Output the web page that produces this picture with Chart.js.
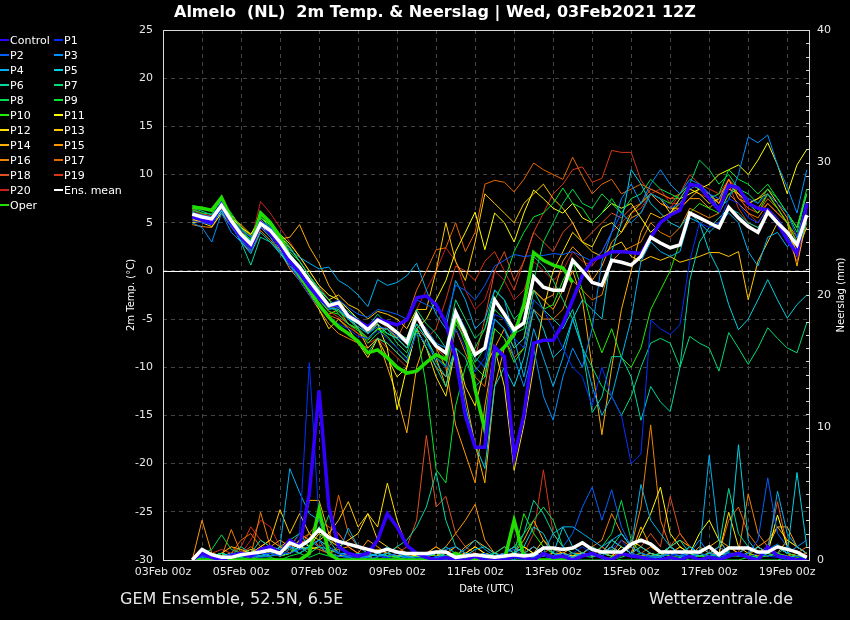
<!DOCTYPE html>
<html>
<head>
<meta charset="utf-8">
<script src="https://cdn.jsdelivr.net/npm/chart.js@4.4.1/dist/chart.umd.min.js"></script>
<style>
  body { margin: 0; background: #000; }
  #wrap { position: relative; width: 850px; height: 620px; background: #000; font-family: "DejaVu Sans", sans-serif; color: #fff; }
  canvas { position: absolute; left: 0; top: 0; }
  .title { position: absolute; left: 174px; top: 2px; font-size: 16px; font-weight: bold; white-space: pre; line-height: 20px; }
  .foot { position: absolute; top: 589px; font-size: 16px; line-height: 20px; color: #e6e6e6; }
  .leg { position: absolute; font-size: 11px; line-height: 14px; white-space: nowrap; }
  .leg i { display: inline-block; width: 9px; height: 2px; vertical-align: middle; margin-right: 1px; margin-top: -2px; }
</style>
</head>
<body>
<div id="wrap">
  <canvas id="chart" width="850" height="620"></canvas>
  <div class="title">Almelo  (NL)  2m Temp. &amp; Neerslag | Wed, 03Feb2021 12Z</div>
  <div class="foot" style="left:120px">GEM Ensemble, 52.5N, 6.5E</div>
  <div class="foot" style="right:57px">Wetterzentrale.de</div>
  <div id="legend"></div>
</div>
<script>
// forecast hours after 03Feb 00z (6-hourly)
const hours = [18, 24, 30, 36, 42, 48, 54, 60, 66, 72, 78, 84, 90, 96, 102, 108,
  114, 120, 126, 132, 138, 144, 150, 156, 162, 168, 174, 180, 186, 192, 198, 204,
  210, 216, 222, 228, 234, 240, 246, 252, 258, 264, 270, 276, 282, 288, 294, 300,
  306, 312, 318, 324, 330, 336, 342, 348, 354, 360, 366, 372, 378, 384, 390, 396]
const tickLabels = [`03Feb 00z`, `05Feb 00z`, `07Feb 00z`, `09Feb 00z`, `11Feb 00z`,
  `13Feb 00z`, `15Feb 00z`, `17Feb 00z`, `19Feb 00z`]
const names = [`Control`, `P1`, `P2`, `P3`, `P4`, `P5`, `P6`, `P7`, `P8`, `P9`, `P10`,
  `P11`, `P12`, `P13`, `P14`, `P15`, `P16`, `P17`, `P18`, `P19`, `P20`, `Ens. mean`, `Oper`]

// 2m temperature (°C)
const tControl = [5.6, 5.3, 5.0, 6.9, 5.0, 3.5, 2.5, 5.0, 4.0, 2.6, 1.0, -0.2, -1.6, -2.8, -3.6, -3.5,
  -4.6, -5.2, -5.8, -5.0, -5.3, -5.6, -5.1, -2.8, -2.6, -3.5, -5.4, -9.0, -15.0, -18.3, -18.3, -7.9,
  -8.9, -19.3, -15.0, -7.5, -7.2, -7.2, -5.5, -3.0, -0.5, 1.1, 1.5, 2.0, 2.0, 1.9, 1.8, 3.5,
  5.0, 5.8, 6.3, 9.0, 8.8, 7.5, 6.3, 8.9, 8.6, 7.0, 6.5, 6.3, 5.0, 3.2, 1.8, 7.0]
const tP1 = [5.2, 5.0, 4.8, 6.5, 4.5, 3.2, 2.0, 4.5, 3.8, 2.4, 0.5, -1.0, -2.5, -3.8, -4.8, -5.5,
  -6.0, -6.8, -7.0, -6.2, -7.0, -8.0, -9.2, -6.5, -7.5, -9.0, -10.0, -6.0, -8.0, -10.5, -9.0, -4.5,
  -5.0, -7.0, -8.0, -3.0, -4.0, -6.0, -8.0, -10.0, -11.0, -14.0, -10.0, -13.0, -15.0, -20.0, -19.0, -5.1,
  -6.0, -6.6, -5.6, 1.0, 5.0, 4.5, 5.0, 7.5, 7.0, 5.5, 5.0, 6.5, 5.5, 4.0, 3.0, 6.0]
const tP2 = [6.0, 5.8, 5.6, 7.2, 5.5, 4.2, 3.5, 5.2, 4.5, 3.2, 1.6, 0.2, -1.2, -2.6, -3.5, -3.0,
  -3.8, -4.5, -4.8, -4.0, -4.2, -4.5, -5.0, -3.0, -3.5, -4.0, -5.0, -1.5, -2.0, -3.0, -1.5, 0.5,
  1.1, 1.7, 1.5, 1.6, 1.6, 1.8, 1.7, 2.0, 1.5, 1.0, 2.0, 4.0, 6.0, 5.0, 6.0, 8.0,
  7.5, 6.5, 7.0, 8.5, 9.0, 8.0, 7.5, 9.0, 8.5, 7.5, 7.0, 8.0, 7.0, 6.0, 3.5, 7.0]
const tP3 = [5.0, 4.5, 3.0, 6.0, 4.0, 3.0, 2.2, 4.6, 3.5, 2.0, 0.8, -0.8, -2.0, -3.0, -4.0, -3.8,
  -5.0, -5.5, -6.5, -5.8, -6.0, -6.8, -7.5, -5.0, -6.0, -7.5, -8.0, -4.0, -6.0, -9.0, -10.0, -5.0,
  -6.0, -9.0, -12.0, -8.0, -13.0, -15.5, -11.0, -8.0, -10.0, -6.0, 1.0, 4.0, 7.5, 9.0, 7.0, 9.0,
  10.5, 9.0, 8.0, 9.5, 9.0, 8.0, 6.5, 7.4, 10.0, 13.9, 13.3, 14.1, 11.0, 8.7, 6.0, 10.5]
const tP4 = [6.2, 5.5, 5.2, 6.3, 4.6, 3.9, 3.2, 5.2, 4.5, 3.5, 2.2, 1.4, 0.8, 0.2, 0.4, -1.0,
  -1.6, -2.5, -3.7, -0.9, -1.5, -1.2, -0.5, 0.8, -2.0, -4.5, -6.0, -1.0, -3.0, -6.0, -5.0, -2.0,
  -3.0, -7.0, -11.0, -6.0, -9.0, -12.0, -9.0, -5.0, -8.0, -12.0, -15.0, -13.0, -9.0, -5.0, 1.0, 3.0,
  2.0, 1.5, 2.0, 5.5, 5.0, 4.0, 5.0, 6.0, 5.0, 2.0, 0.5, 3.5, 4.0, 2.5, 3.5, 5.5]
const tP5 = [5.5, 5.2, 4.8, 6.2, 4.8, 3.0, 1.8, 4.0, 3.0, 1.8, 0.5, -0.5, -1.5, -2.6, -3.8, -4.0,
  -5.0, -5.8, -6.5, -5.5, -6.5, -7.0, -8.0, -5.5, -7.0, -9.5, -11.0, -8.0, -14.0, -18.0, -20.5, -12.0,
  -10.0, -12.0, -9.0, -4.0, -6.0, -9.0, -8.0, -5.0, -3.0, -4.0, -5.0, 2.0, 5.0, 10.5, 9.0, 7.0,
  6.0, 5.0, 4.5, 6.0, 5.0, 2.0, 0.0, -3.5, -6.1, -5.0, -3.0, -0.9, -3.0, -4.9, -3.5, -2.5]
const tP6 = [6.5, 6.2, 5.8, 7.0, 5.0, 3.0, 0.6, 3.5, 3.0, 2.0, 0.5, -0.8, -2.0, -3.5, -5.0, -6.0,
  -6.5, -7.5, -8.5, -7.0, -7.5, -8.5, -9.5, -6.0, -8.0, -10.0, -12.0, -8.0, -9.0, -12.0, -11.0, -5.0,
  -6.0, -8.0, -7.0, -2.0, -4.0, -5.0, -6.0, -4.0, -8.0, -14.7, -13.1, -8.9, -8.9, -11.0, -15.5, -12.0,
  -13.6, -14.6, -10.0, -1.0, 3.0, 4.5, 5.5, 6.5, 6.0, 5.0, 4.5, 6.0, 5.0, 3.5, 2.0, 5.0]
const tP7 = [6.0, 5.8, 5.5, 6.8, 5.4, 4.4, 3.5, 5.5, 4.6, 3.4, 2.0, 1.0, -0.5, -1.8, -3.0, -3.8,
  -4.2, -5.0, -5.8, -4.5, -5.5, -6.5, -7.0, -4.0, -5.5, -6.5, -8.0, -3.0, -5.0, -7.0, -6.0, -2.0,
  -3.0, -5.0, -4.0, 1.5, 0.5, -1.0, -3.0, -5.0, -8.0, -10.0, -12.0, -13.0, -15.0, -13.0, -10.0, -7.5,
  -7.0, -7.5, -10.0, -6.8, -7.5, -8.0, -10.4, -6.4, -8.0, -9.7, -8.0, -5.9, -7.0, -8.0, -8.5, -5.4]
const tP8 = [6.8, 6.6, 6.2, 7.2, 6.0, 4.5, 3.0, 6.2, 5.2, 3.8, 2.5, 1.0, -0.5, -2.0, -3.0, -4.5,
  -5.5, -6.0, -7.5, -6.5, -6.0, -7.5, -8.5, -5.5, -7.0, -9.0, -10.0, -5.5, -7.0, -9.5, -8.0, -4.0,
  -5.0, -6.5, -6.0, -1.0, 3.0, 5.0, 7.0, 8.5, 7.0, 6.5, 8.0, 7.0, 6.0, 7.5, 8.0, 9.5,
  8.5, 8.0, 7.5, 9.0, 11.5, 10.5, 9.0, 10.0, 8.5, 8.0, 7.0, 8.5, 7.5, 6.0, 4.0, 8.0]
const tP9 = [6.3, 6.0, 5.9, 7.4, 5.6, 4.0, 3.0, 5.8, 4.8, 3.5, 1.8, 0.5, -1.0, -2.5, -3.8, -4.2,
  -5.0, -6.0, -7.0, -6.0, -6.5, -7.0, -8.0, -6.0, -12.0, -20.6, -22.0, -14.0, -10.0, -8.0, -6.0, -3.0,
  -1.0, 2.0, 4.0, 5.6, 6.0, 7.0, 8.6, 7.0, 6.5, 5.0, 6.0, 7.5, 6.0, 5.0, 6.0, 8.0,
  7.5, 7.0, 8.0, 9.0, 8.5, 7.5, 8.0, 10.5, 9.5, 9.0, 8.0, 9.0, 7.5, 6.0, 4.5, 8.5]
const tP10 = [6.0, 5.7, 5.3, 6.6, 5.5, 4.0, 3.3, 5.6, 4.4, 3.0, 1.2, 0.0, -1.5, -3.0, -4.2, -4.5,
  -5.5, -6.2, -7.2, -6.0, -6.8, -8.0, -9.0, -6.5, -7.5, -9.0, -9.8, -5.0, -7.5, -10.0, -11.0, -6.0,
  -7.0, -9.5, -8.0, -3.0, -4.0, -3.5, -1.0, 1.0, -2.0, -5.8, -8.5, -6.0, -9.0, -10.0, -8.0, -4.0,
  -2.0, 0.0, 3.0, 6.0, 7.0, 6.5, 6.0, 8.0, 8.5, 7.0, 6.0, 8.0, 6.5, 5.0, 3.0, 6.5]
const tP11 = [5.0, 5.3, 5.0, 6.2, 5.6, 4.5, 3.8, 5.5, 4.8, 3.8, 2.8, 1.5, 0.0, -1.5, -2.5, -3.0,
  -4.0, -5.0, -6.5, -5.5, -8.0, -14.4, -10.0, -6.0, -5.0, -3.0, -1.0, 2.0, 4.0, 6.1, 2.2, 6.0,
  5.0, 3.0, 6.0, 8.4, 7.5, 6.5, 6.0, 7.0, 5.5, 5.0, 6.0, 7.0, 6.5, 7.0, 5.5, 4.0,
  5.0, 6.0, 7.5, 8.0, 8.5, 9.0, 10.0, 10.5, 11.0, 10.0, 11.5, 13.3, 11.0, 8.0, 11.0, 12.6]
const tP12 = [5.4, 5.0, 4.6, 6.0, 5.0, 3.6, 2.6, 4.5, 4.0, 2.2, 0.8, -0.5, -2.2, -4.0, -6.0, -5.0,
  -6.0, -7.5, -9.0, -7.0, -9.0, -11.0, -10.0, -6.0, -8.0, -11.0, -13.0, -8.0, -12.0, -14.0, -10.0, -8.0,
  -12.0, -20.7, -16.0, -10.0, -4.0, 0.0, 2.0, 4.0, 3.0, 2.5, 4.5, 5.0, 4.0, 6.0, 7.0, 8.0,
  7.5, 6.0, 7.0, 8.5, 8.0, 7.0, 7.5, 9.0, 8.0, 7.0, 7.5, 8.5, 7.0, 6.0, 4.5, 8.0]
const tP13 = [5.2, 5.4, 5.5, 6.8, 5.8, 4.6, 3.6, 4.8, 4.2, 3.6, 2.4, 1.0, -0.5, -2.0, -3.0, -2.5,
  -3.5, -4.0, -5.0, -4.2, -4.5, -5.0, -6.0, -4.0, -4.0, 0.0, 5.0, 1.0, -1.0, 3.0, 8.0, 7.0,
  6.0, 5.0, 7.0, 8.0, 9.0, 7.5, 6.5, 5.0, 3.0, 2.0, 1.5, 2.5, 3.0, 1.5, 1.0, 1.5,
  1.1, 1.5, 0.9, 1.2, 1.5, 1.9, 1.9, 1.5, 2.0, -3.0, 1.0, 3.0, 5.0, 4.0, 2.0, 4.5]
const tP14 = [5.0, 5.2, 5.3, 6.5, 5.5, 4.8, 3.8, 5.0, 4.0, 3.3, 3.5, 4.8, 2.5, 0.8, -1.5, -3.0,
  -4.5, -6.0, -8.0, -7.0, -10.0, -13.0, -16.8, -10.0, -7.0, -9.0, -12.0, -8.0, -13.0, -18.0, -22.0, -12.0,
  -8.0, -6.0, -4.0, -2.0, -3.0, -4.0, -2.0, 0.0, -3.0, -10.0, -17.0, -10.0, -4.0, 0.0, 4.0, 6.0,
  5.5, 6.0, 6.5, 7.5, 8.5, 8.0, 7.0, 8.5, 8.0, 7.0, 7.5, 8.0, 6.5, 5.0, 0.5, 5.5]
const tP15 = [5.6, 5.5, 5.2, 6.6, 5.0, 3.5, 2.6, 5.3, 4.3, 2.8, 1.0, -0.5, -2.0, -3.5, -4.5, -4.0,
  -5.5, -6.0, -7.0, -6.0, -6.0, -7.0, -8.0, -5.0, -6.5, -8.0, -10.0, -16.0, -19.0, -22.0, -14.0, -8.0,
  -6.0, -8.0, -7.0, -2.0, -3.0, -2.5, 1.0, 2.5, 1.5, -1.0, 0.5, 3.0, 4.0, 5.5, 6.0, 8.0,
  7.0, 6.5, 6.5, 7.5, 7.5, 6.5, 7.5, 9.5, 7.5, 7.0, 6.5, 8.0, 7.0, 5.5, 1.5, 6.5]
const tP16 = [4.8, 4.6, 4.5, 6.0, 4.6, 3.2, 2.0, 4.2, 3.2, 2.0, 0.2, -1.0, -2.5, -4.0, -5.5, -6.5,
  -7.0, -7.5, -8.0, -7.0, -7.5, -8.5, -9.5, -6.0, -8.0, -10.0, -11.0, -6.0, -8.5, -11.0, -12.0, -6.0,
  -7.0, -9.0, -8.0, -4.0, -5.0, -5.0, -4.0, -1.0, -2.0, -3.0, -2.5, 1.0, 2.0, 2.5, 3.0, 5.0,
  4.0, 3.5, 4.5, 6.5, 6.0, 5.5, 6.0, 8.0, 7.0, 6.0, 5.5, 7.0, 6.0, 5.0, 3.5, 7.0]
const tP17 = [5.8, 5.4, 5.0, 6.4, 4.8, 3.0, 2.0, 4.5, 3.5, 2.0, 0.5, -1.0, -2.5, -3.6, -4.6, -5.0,
  -5.8, -6.5, -7.0, -6.0, -6.0, -7.0, -5.0, -2.0, 0.0, 2.2, 2.4, 5.0, 2.0, 4.0, 9.0, 9.4,
  9.2, 8.2, 9.5, 11.2, 10.5, 10.0, 9.5, 11.8, 9.8, 8.0, 9.0, 9.5, 8.0, 8.5, 9.0, 8.5,
  8.0, 7.5, 8.0, 9.0, 8.5, 8.0, 7.0, 9.5, 8.5, 7.0, 6.0, 7.5, 6.5, 5.0, 3.0, 6.5]
const tP18 = [6.4, 6.0, 5.6, 7.0, 5.3, 3.2, 2.4, 5.2, 4.0, 2.5, 1.0, -0.5, -2.0, -3.0, -4.0, -3.5,
  -4.5, -5.0, -6.0, -5.5, -6.5, -7.0, -8.0, -5.0, -6.0, -8.0, -9.0, -5.0, -7.0, -9.0, -5.0, 0.0,
  2.0, -1.0, 1.0, 4.0, 3.0, 2.0, 4.0, 5.0, 3.0, 4.0, 5.0, 6.0, 5.5, 6.5, 7.0, 8.5,
  8.0, 7.5, 7.5, 9.0, 8.5, 8.0, 7.0, 9.5, 7.5, 6.5, 6.0, 7.0, 6.0, 5.0, 3.0, 6.0]
const tP19 = [5.7, 5.5, 5.4, 6.6, 5.2, 4.0, 3.0, 5.0, 4.2, 3.0, 1.5, 0.0, -1.5, -3.0, -4.2, -4.8,
  -5.5, -6.5, -7.5, -7.0, -8.0, -9.0, -10.0, -6.0, -7.0, -6.0, -3.0, 0.5, 0.0, -1.0, 1.0, 2.0,
  0.0, -2.0, 1.0, 4.0, 6.0, 8.0, 9.0, 10.5, 10.8, 9.2, 9.6, 12.5, 12.3, 12.3, 9.4, 8.0,
  7.0, 6.5, 8.0, 10.0, 9.0, 8.5, 8.0, 9.0, 6.5, 5.0, 4.5, 6.0, 5.0, 3.5, 1.0, 5.0]
const tP20 = [6.2, 5.9, 5.7, 7.0, 5.6, 4.2, 3.0, 7.2, 6.0, 4.5, 3.0, 1.5, 0.0, -1.5, -3.0, -3.8,
  -4.5, -5.5, -6.5, -5.0, -6.0, -6.5, -7.0, -4.0, -2.0, 0.0, 2.4, 1.0, -2.0, -4.0, -3.0, 0.0,
  -1.0, -3.0, -2.0, 1.0, 0.0, -1.0, 0.0, 2.0, 1.0, 0.5, 2.0, 4.0, 5.0, 6.0, 6.5, 8.0,
  8.5, 7.0, 7.0, 8.5, 8.0, 7.5, 8.0, 9.5, 8.0, 6.0, 5.0, 6.5, 5.5, 4.0, 2.0, 5.5]
const tMean = [5.9, 5.6, 5.4, 6.8, 5.2, 3.8, 2.8, 4.9, 4.2, 3.0, 1.5, 0.4, -1.0, -2.3, -3.6, -3.3,
  -4.7, -5.3, -6.1, -5.1, -5.6, -6.4, -7.4, -4.6, -6.5, -7.8, -8.5, -4.3, -6.5, -8.7, -8.0, -3.0,
  -4.5, -6.1, -5.4, -0.6, -1.7, -2.0, -2.0, 1.1, 0.0, -1.2, -1.5, 1.1, 0.9, 0.6, 1.5, 3.5,
  2.9, 2.4, 2.7, 6.0, 5.5, 5.0, 4.5, 6.6, 5.5, 4.6, 4.0, 6.1, 5.0, 4.0, 2.7, 5.8]
const tOper = [6.6, 6.5, 6.3, 7.6, 5.5, 3.5, 2.5, 6.0, 5.0, 3.5, 1.5, -0.5, -2.0, -3.5, -4.8, -5.8,
  -6.5, -7.3, -8.5, -8.2, -9.0, -10.0, -10.6, -10.4, -9.5, -8.7, -9.2, -4.8, -6.3, -12.3, -16.5, -8.9,
  -7.9, -6.6, -3.5, 1.9, 1.1, 0.6, 0.3, -1.2]

// neerslag (mm / 6h)
const pControl = [0, 0.5, 0.2, 0, 0.3, 0.5, 0.3, 0.8, 1.0, 0.5, 1.5, 1.0, 5.0, 12.8, 4.0, 1.0,
  0.5, 0.3, 0.5, 1.5, 3.5, 2.5, 1.1, 0.5, 0.2, 0, 0.2, 0, 0, 0.3, 0, 0,
  0, 0.3, 0.2, 0, 0.5, 0.2, 0.3, 0, 0.3, 0.5, 0.2, 0, 0.5, 0.3, 0.2, 0,
  0, 0.2, 0, 0.3, 0, 0.2, 0, 0.3, 0.5, 0.2, 0, 1.0, 0.3, 0.2, 0, 0]
const pP1 = [0, 0.3, 0, 0.2, 0.5, 0.3, 0.2, 0.5, 0.5, 0.3, 0.8, 2.0, 14.9, 3.0, 1.0, 0.5,
  0.3, 0.2, 0, 0.3, 0.2, 0, 0, 0.2, 0, 0.3, 0, 0, 0.2, 0, 0.5, 0,
  0, 0.2, 0, 0, 0.3, 0, 0.2, 0.5, 1.0, 0.5, 0.3, 0.8, 1.5, 0.5, 0.3, 0.2,
  0, 0.3, 0.5, 0.2, 0, 0.3, 0.2, 0.5, 0.3, 0.2, 0.5, 0.3, 0.2, 0, 0.3, 0]
const pP2 = [0, 0.2, 0.3, 0, 0.2, 0.5, 0.3, 0.2, 0.3, 0.5, 0.5, 0.8, 1.5, 1.0, 0.5, 0.3,
  0.2, 0.3, 0.2, 0, 0.3, 0.5, 0.2, 0, 0, 0.2, 0.3, 0.5, 0.3, 0.2, 0, 0.3,
  0.5, 0.8, 0.3, 0.2, 0.5, 0.3, 1.0, 2.0, 4.0, 5.5, 3.0, 5.3, 2.5, 1.0, 0.5, 0.3,
  0.2, 0.5, 0.3, 0.2, 0.5, 0.3, 1.0, 0.5, 0.3, 0.5, 1.5, 6.2, 2.0, 1.0, 0.5, 0.3]
const pP3 = [0, 0.5, 0.3, 0.2, 0.3, 0.3, 0.5, 0.3, 0.5, 0.8, 1.0, 0.5, 1.0, 1.5, 0.5, 0.3,
  0.2, 0, 0.3, 0.5, 0.2, 0, 0.3, 0, 0.3, 0.5, 0.8, 1.0, 0.5, 0.3, 0.5, 0.2,
  0.3, 0, 0.5, 1.0, 0.5, 0.3, 0.5, 0.2, 0.5, 0.3, 0.5, 1.0, 0.5, 0.3, 0.2, 0,
  0.3, 0.5, 0.3, 0.5, 1.5, 0.5, 0.3, 0.2, 0.5, 1.0, 0.5, 0.8, 1.2, 0.5, 1.0, 1.5]
const pP4 = [0, 0.8, 0.3, 0.2, 0.5, 0.3, 0.2, 0.3, 0.5, 1.0, 6.9, 5.1, 3.5, 3.0, 1.0, 0.5,
  2.4, 1.0, 0.5, 0.3, 0.5, 0.3, 0.2, 0, 0, 0.2, 0.5, 0.3, 0.8, 1.5, 0.8, 0.3,
  0.5, 1.0, 0.5, 0.3, 0.5, 2.0, 2.5, 2.5, 2.0, 1.5, 1.0, 1.5, 2.0, 1.0, 5.7, 3.0,
  2.0, 1.0, 0.5, 1.0, 0.5, 7.9, 1.5, 0.5, 0.3, 0.5, 1.0, 0.5, 5.2, 2.0, 1.0, 0.5]
const pP5 = [0, 0.5, 0.5, 0.3, 0.2, 0.3, 0.3, 0.5, 0.3, 0.5, 1.0, 0.8, 1.0, 1.5, 1.0, 0.5,
  0.5, 0.3, 0.2, 0.5, 1.0, 0.5, 0.3, 0.2, 0.3, 0.5, 1.0, 0.5, 0.3, 0.8, 1.0, 0.5,
  0.3, 0.5, 1.0, 2.5, 2.0, 0.5, 2.5, 1.0, 0.5, 1.0, 0.5, 1.5, 1.0, 0.5, 1.0, 0.5,
  0.3, 1.0, 0.5, 0.3, 0.5, 1.0, 0.5, 0.5, 8.7, 1.5, 0.5, 0.5, 1.0, 0.5, 6.6, 1.0]
const pP6 = [0, 0.2, 0.3, 0.5, 0.3, 1.0, 0.5, 1.5, 1.0, 0.8, 1.5, 2.0, 1.0, 2.5, 1.5, 0.5,
  0.3, 0.5, 0.5, 0.3, 0.5, 1.0, 1.5, 2.5, 4.0, 6.6, 3.0, 1.0, 0.5, 0.3, 0.2, 0.5,
  1.0, 0.5, 2.0, 4.5, 3.5, 2.0, 1.0, 0.5, 0.3, 0.5, 0.3, 1.0, 2.0, 1.0, 0.5, 0.3,
  0.5, 1.0, 1.5, 0.5, 0.3, 0.5, 1.0, 5.4, 2.0, 1.0, 0.5, 0.3, 0.5, 1.0, 0.5, 0.3]
const pP7 = [0, 0.3, 0.2, 0.5, 0.3, 0.2, 0.3, 0.5, 0.5, 0.3, 0.5, 1.0, 0.5, 1.0, 0.8, 0.5,
  0.2, 0.3, 0, 0.2, 0.5, 0.3, 0.2, 0, 0, 0.2, 0.3, 0.2, 0, 0.3, 0.2, 0,
  0.2, 0.5, 0.3, 0.5, 1.0, 0.5, 0.3, 0.2, 0.3, 0.2, 0.5, 0.3, 0.2, 0.5, 0.3, 0.2,
  0.2, 0.5, 0.3, 0.2, 0.3, 0.5, 0.2, 0.3, 0.5, 0.3, 0.2, 0.5, 0.3, 0.2, 0.3, 0.2]
const pP8 = [0, 0.5, 0.8, 1.9, 0.8, 0.5, 0.3, 0.5, 0.3, 0.5, 1.0, 0.5, 1.0, 1.5, 3.4, 1.0,
  0.5, 0.3, 0.2, 0.5, 0.3, 0.2, 0, 0.2, 0.3, 0.5, 0.3, 0.2, 0, 0.3, 0.5, 0.2,
  0.5, 1.0, 2.0, 3.0, 4.0, 3.0, 1.0, 0.5, 0.3, 0.5, 1.0, 2.0, 4.5, 1.5, 0.5, 0.3,
  0.2, 0.5, 0.3, 1.0, 0.5, 0.3, 0.5, 0.3, 0.5, 0.3, 0.2, 0.5, 1.0, 0.5, 0.3, 0.2]
const pP9 = [0, 0, 0.2, 0.5, 0.3, 0.2, 0, 0.3, 0.2, 0, 0.3, 0.5, 0.2, 0.5, 0.3, 0,
  0, 0, 0.2, 0, 0, 0, 0, 0, 0, 0, 0, 0.2, 0, 0, 0, 0,
  0, 0, 0, 0.2, 0.5, 0.3, 0, 0, 0, 0, 0, 0.2, 0, 0, 0, 0,
  0, 0, 0.2, 0, 0, 0.3, 0, 0, 0, 0.2, 0, 0, 0, 0.2, 0, 0]
const pP10 = [0, 0.3, 0.5, 0.3, 0.2, 0.3, 0.5, 0.3, 0.5, 0.3, 0.8, 0.5, 1.0, 2.5, 1.0, 0.5,
  0.3, 0.2, 0.3, 0.5, 0.3, 0.2, 0, 0.3, 0.5, 0.3, 0.2, 0.5, 0.3, 0.2, 0.3, 0.5,
  0.3, 0.5, 3.5, 2.0, 1.0, 0.5, 0.3, 0.5, 0.3, 0.5, 0.3, 0.8, 0.5, 0.3, 0.5, 0.3,
  0.5, 0.3, 0.2, 0.5, 0.3, 0.2, 0.5, 0.3, 0.3, 0.5, 0.2, 0.3, 0.5, 0.3, 0.2, 0.3]
const pP11 = [0, 0.2, 0.3, 0.2, 0.5, 0.3, 0.2, 0.3, 0.5, 0.3, 0.5, 1.0, 0.8, 1.0, 0.5, 0.3,
  0.5, 0.3, 0.2, 0.5, 0.3, 0.2, 0.5, 0.3, 0.2, 0.5, 0.3, 0.2, 0.5, 1.0, 0.5, 0.3,
  0.2, 0.5, 1.0, 0.5, 0.3, 0.5, 0.3, 0.2, 0.5, 0.3, 0.5, 1.0, 0.5, 0.3, 2.0, 3.5,
  5.5, 2.0, 1.0, 0.5, 2.0, 3.0, 1.5, 0.5, 0.3, 0.5, 1.0, 0.5, 3.4, 1.0, 0.5, 0.3]
const pP12 = [0, 0.2, 0.3, 0.5, 0.3, 0.5, 0.8, 0.5, 0.5, 1.0, 0.8, 1.5, 1.0, 2.0, 1.5, 1.0,
  1.5, 2.0, 3.5, 2.5, 5.8, 3.0, 1.0, 0.5, 0.3, 0.5, 0.3, 0.2, 0.5, 0.3, 0.2, 0.3,
  0.5, 0.3, 0.5, 1.0, 0.5, 0.3, 0.5, 0.3, 0.5, 0.3, 0.5, 0.3, 1.0, 0.5, 0.3, 0.5,
  0.3, 1.0, 0.5, 0.3, 0.5, 1.0, 0.5, 3.6, 1.0, 0.5, 0.3, 0.5, 1.0, 0.5, 0.3, 0.2]
const pP13 = [0, 0.3, 0.5, 0.3, 0.5, 0.3, 0.5, 1.0, 1.5, 3.8, 2.0, 3.5, 2.0, 1.5, 2.0, 3.0,
  4.4, 2.5, 3.5, 1.5, 1.0, 0.5, 0.3, 0.2, 0.5, 0.3, 0.5, 1.0, 0.5, 0.3, 0.5, 0.2,
  0.3, 0.5, 1.0, 0.5, 1.5, 0.8, 0.5, 0.3, 0.5, 0.3, 0.5, 1.0, 0.5, 1.5, 1.0, 0.5,
  0.3, 0.5, 1.0, 0.5, 0.3, 0.5, 1.0, 0.5, 0.5, 1.0, 0.5, 0.3, 0.5, 1.5, 1.0, 0.5]
const pP14 = [0, 0.5, 0.3, 0.5, 1.0, 0.8, 0.5, 1.0, 1.5, 1.0, 1.5, 1.0, 4.5, 4.5, 2.0, 1.0,
  0.5, 0.3, 0.5, 0.8, 0.5, 0.3, 0.5, 0.3, 0.5, 1.0, 0.5, 0.3, 1.0, 1.5, 1.0, 0.5,
  1.0, 0.5, 1.5, 3.0, 1.5, 0.5, 0.5, 1.0, 0.5, 1.0, 0.5, 1.5, 1.0, 0.5, 2.5, 1.0,
  0.5, 1.0, 1.5, 1.0, 0.5, 1.0, 1.5, 1.0, 0.5, 1.0, 0.5, 1.0, 2.5, 1.5, 1.0, 0.5]
const pP15 = [0, 3.0, 0.5, 0.3, 0.5, 0.3, 0.5, 0.8, 1.0, 1.5, 1.0, 2.0, 1.5, 1.0, 0.5, 0.8,
  1.0, 0.5, 1.5, 1.0, 0.5, 0.3, 0.5, 0.3, 0.5, 0.3, 1.0, 2.0, 3.0, 4.2, 1.5, 0.5,
  0.3, 0.5, 0.3, 0.5, 1.0, 0.5, 0.3, 0.5, 0.5, 1.0, 0.5, 0.3, 0.5, 1.0, 0.5, 0.3,
  0.5, 1.0, 0.5, 0.3, 1.0, 0.5, 0.5, 1.0, 0.5, 0.3, 1.0, 1.5, 2.5, 2.5, 1.0, 0.5]
const pP16 = [0, 0.5, 0.3, 0.2, 2.3, 0.5, 0.3, 3.6, 1.0, 0.5, 1.0, 0.5, 1.0, 0.8, 0.5, 1.0,
  0.5, 0.3, 0.5, 0.3, 0.5, 1.0, 0.5, 0.3, 0.5, 0.3, 0.5, 0.3, 0.5, 0.3, 0.5, 0.3,
  0.5, 1.0, 0.5, 0.3, 0.5, 1.0, 0.5, 1.0, 0.5, 1.0, 1.5, 3.5, 2.0, 1.0, 4.0, 10.2,
  3.0, 1.0, 0.5, 0.3, 0.5, 1.0, 0.5, 0.3, 0.5, 5.0, 2.0, 1.0, 0.5, 0.3, 0.5, 1.0]
const pP17 = [0, 0.3, 0.5, 0.3, 0.5, 1.5, 2.0, 1.0, 0.5, 1.0, 0.5, 1.5, 2.0, 1.0, 1.5, 4.9,
  2.0, 1.0, 0.5, 0.3, 0.5, 0.3, 0.5, 0.3, 0.5, 1.0, 0.5, 0.3, 0.5, 1.0, 0.5, 0.3,
  0.5, 0.3, 0.5, 1.0, 0.5, 0.3, 0.5, 0.3, 0.5, 0.3, 1.0, 0.5, 1.5, 1.0, 0.5, 1.0,
  0.5, 1.0, 2.0, 1.0, 0.5, 1.0, 0.5, 3.0, 4.0, 2.0, 1.0, 0.5, 1.0, 0.5, 0.3, 0.5]
const pP18 = [0, 0.5, 0.3, 0.5, 0.3, 0.5, 1.0, 0.5, 0.5, 0.3, 0.5, 1.0, 2.0, 3.0, 2.5, 2.0,
  1.0, 0.5, 0.3, 0, 0.3, 0.5, 1.0, 3.0, 9.4, 4.0, 4.8, 2.0, 1.0, 0.5, 0.3, 0.5,
  0.3, 0.5, 0.3, 0.5, 1.0, 0.5, 0.3, 0.5, 0.5, 0.3, 0.5, 0.3, 1.0, 0.5, 1.0, 2.0,
  1.0, 4.8, 2.0, 1.0, 0.5, 1.0, 0.5, 1.0, 0.5, 1.0, 0.5, 1.0, 4.4, 1.0, 0.5, 0.3]
const pP19 = [0, 0.3, 0.5, 0.8, 0.5, 1.0, 2.5, 1.5, 1.0, 0.5, 1.0, 0.5, 1.0, 1.5, 1.0, 2.0,
  1.0, 0.5, 0.3, 0.5, 0.3, 0.5, 0.3, 0.5, 0.3, 0.5, 0.3, 1.0, 0.5, 0.3, 0.5, 0.3,
  0.5, 1.0, 0.5, 2.0, 6.8, 2.0, 1.0, 0.5, 0.5, 1.0, 0.5, 1.0, 0.5, 0.3, 0.5, 0.3,
  0.5, 0.3, 1.0, 0.5, 0.3, 0.5, 1.0, 0.5, 0.3, 0.5, 1.0, 0.5, 1.0, 0.5, 0.3, 0.5]
const pP20 = [0, 0.5, 0.3, 0.5, 1.0, 0.5, 1.5, 3.0, 2.5, 1.0, 0.5, 1.0, 0.5, 1.0, 0.5, 0.3,
  0.5, 0.3, 0.5, 0.3, 0.5, 0.3, 0.5, 0.3, 0.5, 0.3, 0.5, 0.3, 0.5, 1.0, 0.5, 0.3,
  0.3, 0.5, 0.3, 0.5, 0.3, 0.5, 0.3, 0.5, 0.3, 0.5, 1.0, 0.5, 0.3, 0.5, 0.3, 0.5,
  0.3, 0.5, 0.3, 1.0, 0.5, 0.3, 0.5, 0.3, 0.5, 0.3, 0.5, 0.3, 1.0, 0.5, 0.3, 0.5]
const pMean = [0, 0.8, 0.4, 0.2, 0.2, 0.4, 0.5, 0.6, 0.75, 0.5, 1.3, 1.0, 1.5, 2.3, 1.7, 1.4,
  1.2, 1.0, 0.8, 0.6, 0.8, 0.6, 0.5, 0.5, 0.5, 0.6, 0.6, 0.2, 0.3, 0.4, 0.3, 0.2,
  0.3, 0.4, 0.3, 0.4, 0.9, 0.9, 0.8, 0.9, 1.3, 0.8, 0.6, 0.6, 0.6, 1.2, 1.5, 1.2,
  0.6, 0.6, 0.6, 0.6, 0.6, 1.0, 0.4, 0.9, 0.9, 0.9, 0.6, 0.6, 1.0, 0.8, 0.6, 0.2]
const pOper = [0, 0, 0, 0, 0, 0, 0, 0, 0, 0, 0, 0, 0.5, 3.8, 0.5, 0,
  0, 0, 0, 0, 0, 0, 0, 0, 0, 0, 0.2, 0.5, 0.2, 0, 0, 0,
  0, 3.0, 0.3, 0, 0, 0, 0, 0]

const tempSets = [tControl, tP1, tP2, tP3, tP4, tP5, tP6, tP7, tP8, tP9, tP10,
  tP11, tP12, tP13, tP14, tP15, tP16, tP17, tP18, tP19, tP20, tMean, tOper]
const rainSets = [pControl, pP1, pP2, pP3, pP4, pP5, pP6, pP7, pP8, pP9, pP10,
  pP11, pP12, pP13, pP14, pP15, pP16, pP17, pP18, pP19, pP20, pMean, pOper]

// stijl per lijn
const colours = [`#3300ff`, `#0030ff`, `#0060ff`, `#0090ff`, `#00b0f0`, `#00d0e0`, `#00d8a0`,
  `#00dd78`, `#00dd50`, `#00e830`, `#20ee00`, `#ffff00`, `#ffe000`, `#ffc800`, `#ffb000`,
  `#ff9800`, `#f08000`, `#e86800`, `#e05020`, `#d83818`, `#c82020`, `#ffffff`, `#22dd00`]
const thick = [`Control`, `Ens. mean`, `Oper`]

const toPoints = (vals) => vals.map((v, i) => ({ x: hours[i], y: v }))

const datasets = []
names.forEach((name, i) => {
  const wide = thick.includes(name)
  const order = name === `Ens. mean` ? 0 : wide ? 1 : 2
  const base = {
    label: name,
    borderColor: colours[i],
    borderWidth: wide ? 3.5 : 1,
    pointRadius: 0,
    tension: 0,
    fill: false,
    order: order,
  }
  datasets.push({ ...base, data: toPoints(tempSets[i]), yAxisID: `yT` })
  datasets.push({ ...base, data: toPoints(rainSets[i]), yAxisID: `yP` })
})

const font = { family: `DejaVu Sans`, size: 11 }
const gridGrey = `#444444`

const decor = {
  id: `decor`,
  beforeDatasetsDraw(chart) {
    const { ctx, chartArea: a, scales } = chart
    ctx.save()
    // kader
    ctx.strokeStyle = `#d8d8d8`
    ctx.lineWidth = 1
    ctx.strokeRect(a.left + 0.5, a.top + 0.5, a.right - a.left - 1, a.bottom - a.top)
    // nullijn
    const y0 = Math.round(scales.yT.getPixelForValue(0)) + 0.5
    ctx.strokeStyle = `#ffffff`
    ctx.beginPath()
    ctx.moveTo(a.left, y0)
    ctx.lineTo(a.right, y0)
    ctx.stroke()
    // kleine streepjes rechter as
    ctx.strokeStyle = `#d8d8d8`
    for (let v = 0; v <= 40; v++) {
      const y = Math.round(scales.yP.getPixelForValue(v)) + 0.5
      ctx.beginPath()
      ctx.moveTo(a.right - 4, y)
      ctx.lineTo(a.right, y)
      ctx.stroke()
    }
    ctx.restore()
  },
  afterDraw(chart) {
    const { ctx, chartArea: a } = chart
    const midY = (a.top + a.bottom) / 2
    ctx.save()
    ctx.fillStyle = `#ffffff`
    ctx.font = `10px "DejaVu Sans"`
    ctx.textAlign = `center`
    ctx.textBaseline = `middle`
    ctx.fillText(`Date (UTC)`, (a.left + a.right) / 2, 589)
    ctx.translate(131, midY)
    ctx.rotate(-Math.PI / 2)
    ctx.fillText(`2m Temp. (°C)`, 0, 0)
    ctx.restore()
    ctx.save()
    ctx.fillStyle = `#ffffff`
    ctx.font = `10px "DejaVu Sans"`
    ctx.textAlign = `center`
    ctx.textBaseline = `middle`
    ctx.translate(841, midY)
    ctx.rotate(-Math.PI / 2)
    ctx.fillText(`Neerslag (mm)`, 0, 0)
    ctx.restore()
  },
}

new Chart(document.getElementById(`chart`), {
  type: `line`,
  data: { datasets: datasets },
  options: {
    responsive: false,
    animation: false,
    devicePixelRatio: 1,
    events: [],
    layout: { padding: { top: 30, left: 0, right: 0, bottom: 0 } },
    plugins: { legend: { display: false }, tooltip: { enabled: false }, title: { display: false } },
    scales: {
      x: {
        type: `linear`,
        min: 0,
        max: 398,
        afterFit: (s) => { s.height = 60 },
        afterBuildTicks: (s) => { s.ticks = s.ticks.filter((t) => t.value % 24 === 0) },
        ticks: {
          stepSize: 24,
          includeBounds: false,
          autoSkip: false,
          maxRotation: 0,
          padding: 6,
          color: `#e8e8e8`,
          font: font,
          callback: (v) => (v % 48 === 0 ? tickLabels[v / 48] : ``),
        },
        grid: { color: gridGrey, drawTicks: false },
        border: { display: false, dash: [4, 4] },
      },
      yT: {
        position: `left`,
        min: -30,
        max: 25,
        afterFit: (s) => { s.width = 163 },
        ticks: { stepSize: 5, padding: 10, color: `#e8e8e8`, font: font },
        grid: { color: gridGrey, drawTicks: false },
        border: { display: false, dash: [4, 4] },
      },
      yP: {
        position: `right`,
        min: 0,
        max: 40,
        afterFit: (s) => { s.width = 40 },
        ticks: { stepSize: 10, padding: 7, color: `#e8e8e8`, font: font },
        grid: { display: false, drawOnChartArea: false, drawTicks: false },
        border: { display: false },
      },
    },
  },
  plugins: [decor],
})

// legenda in twee kolommen
const legend = document.getElementById(`legend`)
names.forEach((name, i) => {
  const row = Math.floor(i / 2)
  const col = i % 2
  const item = document.createElement(`div`)
  item.className = `leg`
  item.style.left = (col === 0 ? 0 : 54) + `px`
  item.style.top = 34 + row * 15 + `px`
  item.innerHTML = `<i style="background:${colours[i]}"></i>${name}`
  legend.appendChild(item)
})
</script>
</body>
</html>
